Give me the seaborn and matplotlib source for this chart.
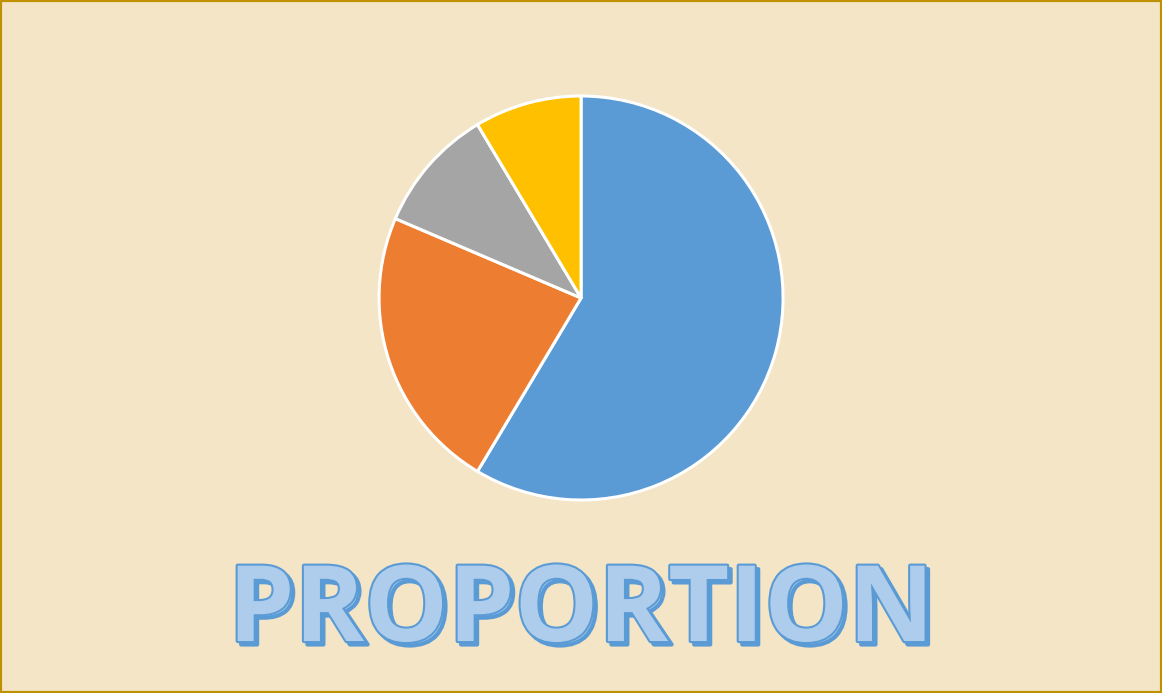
import matplotlib
matplotlib.use("Agg")
import matplotlib.pyplot as plt
import matplotlib.patheffects as pe
from matplotlib.patches import Rectangle
import seaborn as sns

labels = ["1st Qtr", "2nd Qtr", "3rd Qtr", "4th Qtr"]
values = [8.2, 3.2, 1.4, 1.2]
colors = ["#5B9BD5", "#ED7D31", "#A5A5A5", "#FFC000"]
title = "PROPORTION"

sns.set_theme(style="white")
plt.rcParams["font.family"] = ["Open Sans", "DejaVu Sans"]

bg = "#F3E5C5"
fig = plt.figure(figsize=(11.62, 6.93), dpi=100, facecolor=bg)

ax = fig.add_axes([0.3262, 0.2785, 0.3477, 0.583])
ax.set_facecolor("none")
ax.pie(values, colors=sns.color_palette(colors), startangle=90, counterclock=False,
       wedgeprops=dict(edgecolor="white", linewidth=2.2))
ax.set_xlim(-1.0, 1.0)
ax.set_ylim(-1.0, 1.0)
ax.set_aspect("equal")
ax.axis("off")

fig.text(0.5, 0.075, title, ha="center", va="baseline", fontsize=76, fontweight="bold",
         color="#AECDEC",
         path_effects=[pe.Stroke(linewidth=3, foreground="#5B9BD5", offset=(2.5, -2.5)),
                       pe.Stroke(linewidth=3, foreground="#5B9BD5"),
                       pe.Normal()])

fig.patches.append(Rectangle((0, 0), 1, 1, transform=fig.transFigure, fill=False,
                             edgecolor="#BF9000", linewidth=3))

fig.savefig("out.png", dpi=100, facecolor=bg)
